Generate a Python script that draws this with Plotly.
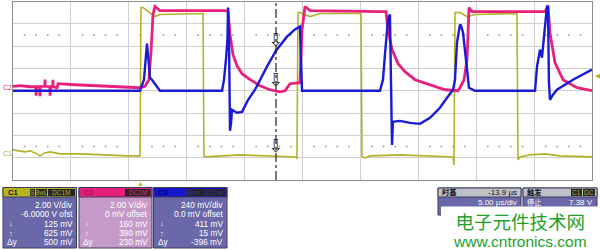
import numpy as np
import plotly.graph_objects as go

# ---------------- data (time in microseconds, 5 us/div) ----------------
# Channel 1 (yellow) volts, 2 V/div, centre 6 V
c1_t = [0, 0.6, 1.04, 1.47, 1.9, 2.33, 2.76, 3.2, 4.06, 5.79, 7.51, 9.93, 10.97,
        11.05, 11.23, 12.26, 12.69, 16.41, 16.49, 16.67, 19.6, 24.44, 24.52,
        24.61, 24.78, 25.65, 26.51, 30.05, 30.14, 30.4, 30.83, 33.42, 38.0,
        38.08, 38.17, 38.6, 39.21, 39.9, 43.52, 43.61, 43.78, 44.65, 45.94,
        47.24, 50.0]
c1_v = [0.70, 0.61, 0.52, 0.61, 0.43, 0.16, 0.43, 0.52, 0.34, 0.34, 0.25, 0.16, 0.16,
        13.46, 13.46, 12.65, 12.83, 12.92, 0.16, 0.07, 0.25, 0.07, -0.10,
        13.01, 13.01, 12.65, 12.92, 12.92, 0.07, -0.02, 0.16, 0.25, 0.07,
        -0.65, 13.01, 13.01, 12.65, 12.83, 12.92, -0.20, 0.07, 0.25, 0.34,
        0.16, 0.07]

# Channel 2 (pink) volts, 2 V/div, centre 0 V
c2_t = [0, 0.6, 1.47, 1.98, 2.0, 2.02, 2.31, 2.33, 2.35, 2.74, 2.76, 2.78,
        3.18, 3.2, 3.22, 3.43, 3.45, 3.47, 3.80, 3.89, 5.35, 7.51, 9.93, 10.97,
        11.4, 11.74, 11.92, 12.09, 12.26,
        12.69, 18.31, 18.57, 18.74, 19.0, 19.34, 19.78, 20.47, 21.33, 22.19,
        23.06, 23.49, 23.92, 24.78, 24.96, 25.22, 25.65, 31.95, 32.21, 32.38,
        32.73, 33.25, 33.85, 34.72, 36.01, 37.31, 38.43, 38.6, 38.95, 39.21,
        39.38, 39.64, 45.94, 46.2, 46.37, 46.8, 47.5, 48.7, 50.0]
c2_v = [0.40, 0.45, 0.36, 0.36, -0.45, 0.36, 0.36, -0.50, 0.36, 0.40, 1.0, 0.40,
        0.36, -0.45, 0.36, 0.36, 0.99, 0.36, 0.27, 0.63, 0.54, 0.45, 0.30, 0.27,
        0.40, 0.99, 3.5, 6.83, 7.55,
        7.19, 7.19, 7.10, 5.03, 3.24, 2.25, 1.53, 0.99, 0.45, 0.09,
        -0.09, 0.0, 0.63, 0.72, 5.48, 7.55, 7.19, 7.10, 7.10, 5.48,
        3.69, 2.43, 1.71, 0.99, 0.54, 0.09, 0.0, 0.27, 0.99, 2.79,
        7.46, 7.10, 7.10, 7.55, 5.21, 2.52, 0.99, 0.27, 0.0]

# Channel 3 (blue) volts, 240 mV/div, centre 0 V
c3_t = [0, 10.97, 11.31, 11.49, 11.57, 11.66, 11.83, 12.0, 12.26, 12.69, 18.05,
        18.22, 18.39, 18.52, 18.57, 18.65, 18.74, 18.83, 18.91, 19.34, 19.78,
        20.29, 20.9, 21.42, 21.93, 22.71, 23.66, 24.35, 24.78, 24.87, 24.96,
        31.69, 31.95, 32.12, 32.38, 32.55, 32.64, 32.73, 32.81, 33.42, 34.29,
        35.15, 36.01, 36.87, 37.48, 38.0, 38.17, 38.34, 38.6, 38.69, 38.86,
        39.21, 39.38, 39.9, 45.08, 45.25, 45.51, 45.68, 45.94, 46.11, 46.2,
        46.28, 46.37, 46.63, 46.97, 48.36, 50.0]
c3_v = [0.0, 0.0, 0.119, 0.388, 0.507, 0.388, 0.14, 0.119, 0.076, 0.0, 0.0,
        0.119, 0.334, 0.55, 0.895, 0.6, -0.431, -0.35, -0.205, -0.237, -0.227,
        -0.1, 0.011, 0.14, 0.259, 0.431, 0.582, 0.66, 0.69, 0.3, 0.0,
        0.0, 0.119, 0.388, 0.766, 0.82, 0.3, -0.582, -0.334, -0.324, -0.345,
        -0.356, -0.291, -0.183, -0.076, 0.011, 0.119, 0.518, 0.712, 0.7, 0.626,
        0.259, 0.032, 0.0, 0.0, 0.259, 0.442, 0.356, 0.658, 0.906, 0.906,
        0.1, -0.097, -0.043, 0.011, 0.119, 0.227]

cursor_t = 22.71          # vertical time cursor
trig_t = 11.05            # trigger position marker
trig_level = 7.38         # C1 trigger level (V)
dot_rows = [1.0, 11.0]    # dotted rows (C1 volts)

c1_panel = ["2.00 V/div", "-6.0000 V ofst", "125 mV", "625 mV", "500 mV"]
c2_panel = ["2.00 V/div", "0 mV offset", "160 mV", "390 mV", "230 mV"]
c3_panel = ["240 mV/div", "0.0 mV offset", "411 mV", "15 mV", "-396 mV"]

YEL = "#b3b227"
PINK = "#e81f7b"
BLUE = "#1a1ad6"
SLATE = "#6a68a8"

fig = go.Figure()

# dotted rows
dot_t = [float(t) for t in range(1, 50) if t % 5 != 0]
for lvl in dot_rows:
    fig.add_trace(go.Scatter(x=dot_t, y=[lvl] * len(dot_t), mode="markers",
                             marker=dict(size=2, color="#a8a8a8"),
                             hoverinfo="skip", showlegend=False))

fig.add_trace(go.Scatter(x=c1_t, y=c1_v, mode="lines", yaxis="y",
                         line=dict(color=YEL, width=1.6), showlegend=False))
fig.add_trace(go.Scatter(x=c3_t, y=c3_v, mode="lines", yaxis="y3",
                         line=dict(color=BLUE, width=2.4), showlegend=False))
fig.add_trace(go.Scatter(x=c2_t, y=c2_v, mode="lines", yaxis="y2",
                         line=dict(color=PINK, width=2.8), showlegend=False))

# cursor arrows at trace values
for tt, vv, ax in [(c1_t, c1_v, "y"), (c2_t, c2_v, "y2"), (c3_t, c3_v, "y3")]:
    val = float(np.interp(cursor_t, tt, vv))
    fig.add_trace(go.Scatter(x=[cursor_t], y=[val], yaxis=ax, mode="text",
                             text=["⇩"], textposition="top center",
                             textfont=dict(size=18, color="#333333",
                                           family="DejaVu Sans"),
                             showlegend=False, hoverinfo="skip"))

def px(x):
    return x / 600.0

def py(y):
    return 1 - y / 250.0

shapes = []
ann = []

shapes.append(dict(type="line", xref="x", yref="y domain", x0=cursor_t, x1=cursor_t,
                   y0=0, y1=1, line=dict(color="#222222", width=1.2, dash="dashdot")))

FONT = "Arial, Liberation Sans"

def rect(x0, y0, x1, y1, fill, line="#3c3c5c", lw=1):
    shapes.append(dict(type="rect", xref="paper", yref="paper", x0=px(x0), x1=px(x1),
                       y0=py(y1), y1=py(y0), fillcolor=fill,
                       line=dict(color=line, width=lw), layer="above"))

def text(x, y, s, size=8, color="white", anchor="right", bold=False, family=FONT):
    if bold:
        s = "<b>" + s + "</b>"
    ann.append(dict(x=px(x), y=py(y), xref="paper", yref="paper", text=s,
                    showarrow=False, xanchor=anchor, yanchor="middle",
                    font=dict(size=size, color=color, family=family)))

def box(x0, x1, s, tc):
    rect(x0, 189, x1, 196, "#262626", line="#262626", lw=0)
    text((x0 + x1) / 2, 192.6, s, size=6.5, color=tc, anchor="center")

def panel(x0, x1, hcol, bcol, lines, label, lcol):
    rect(x0, 187.5, x1, 248, bcol)
    rect(x0, 187.5, x1, 197, hcol)
    text(x0 + 3, 192.5, label, size=7.5, color=lcol, anchor="left", bold=True)
    ys = [205, 214.4, 223.8, 233.2, 242.4]
    for s, yy in zip(lines, ys):
        text(x1 - 2, yy, s, size=8.3)
    text(x0 + 4, 223.8, "↓", size=7.5, anchor="left")
    text(x0 + 4, 233.2, "↑", size=7.5, anchor="left")
    text(x0 + 2, 242.4, "Δy", size=8.3, anchor="left")

panel(3, 76.5, "#b8b41c", SLATE, c1_panel, "C1", "#111111")
box(30, 35, "S", YEL); box(36, 47, "BwL", YEL); box(48, 75, "DC1M", YEL)
panel(79, 152, "#e6207a", "#c69ac8", c2_panel, "C2", "#a8105a")
box(125, 150.5, "DC1M", PINK)
panel(153.5, 227, "#1616cc", SLATE, c3_panel, "C3", "#000066")
box(186, 199, "BwL", "#2a2ab0"); box(200, 225.5, "DC1M", "#2a2ab0")

# time base / trigger panels
rect(438, 188, 521, 215, SLATE)
rect(438, 188, 521, 197, "#c0c0c8")
text(440, 192, "时基", size=7.3, color="#111111", anchor="left", bold=True,
     family="Noto Sans CJK SC")
text(519, 192, "-13.9 µs", size=8, color="#111111")
text(519, 202, "5.00 µs/div", size=8)
rect(523, 188, 597, 215, SLATE)
rect(523, 188, 597, 197, "#c0c0c8")
text(525, 192, "触发", size=7.3, color="#111111", anchor="left", bold=True,
     family="Noto Sans CJK SC")
rect(571, 189, 582, 196, "#262626", line="#262626", lw=0)
text(576.5, 192.6, "C1", size=6.5, color=YEL, anchor="center")
rect(583, 189, 595, 196, "#262626", line="#262626", lw=0)
text(589, 192.6, "DC", size=6.5, color=YEL, anchor="center")
text(525, 202.2, "停止", size=7.3, anchor="left", family="Noto Sans CJK SC")
text(595, 202, "7.38 V", size=8)

# watermark (one two-line text)
rect(441, 206.5, 600, 250, "white", line="white", lw=0)
ann.append(dict(x=px(520), y=py(228.5), xref="paper", yref="paper",
                text=("<span style='font-size:18.5px;font-family:Noto Sans CJK SC'>"
                      "电子元件技术网</span><br>"
                      "<span style='font-size:15.5px'>www.cntronics.com</span>"),
                showarrow=False, xanchor="center", yanchor="middle", align="center",
                font=dict(size=14, color="#22a02a", family=FONT)))

# markers around the graticule
ann.append(dict(x=trig_t, y=py(183.5), xref="x", yref="paper", text="▲",
                showarrow=False, font=dict(size=7, color=YEL), yanchor="middle"))
ann.append(dict(x=px(593), y=trig_level, xref="paper", yref="y", text="◀",
                showarrow=False, xanchor="left", font=dict(size=7, color=YEL)))
ann.append(dict(x=px(1), y=0.3, xref="paper", yref="y2", text="C2", showarrow=False,
                xanchor="left", font=dict(size=7, color=PINK, family=FONT)))
ann.append(dict(x=px(1), y=0.4, xref="paper", yref="y", text="C1", showarrow=False,
                xanchor="left", font=dict(size=7, color=YEL, family=FONT)))

ydom = [py(180), py(1.5)]
fig.update_layout(
    width=600, height=250, margin=dict(l=0, r=0, t=0, b=0),
    paper_bgcolor="white", plot_bgcolor="white", showlegend=False,
    shapes=shapes, annotations=ann,
    xaxis=dict(domain=[px(13), px(592)], range=[0, 50], dtick=5, tick0=0,
               showgrid=True, gridcolor="#cfcfcf", gridwidth=1, zeroline=False,
               showticklabels=False, ticks="", showline=True, linecolor="#8c8c8c",
               linewidth=1, mirror=True, fixedrange=True),
    yaxis=dict(domain=ydom, range=[-2, 14], dtick=2, tick0=0, showgrid=True,
               gridcolor="#cfcfcf", gridwidth=1, zeroline=False, showticklabels=False,
               ticks="", showline=True, linecolor="#8c8c8c", linewidth=1, mirror=True,
               fixedrange=True),
    yaxis2=dict(overlaying="y", range=[-8, 8], visible=False, showgrid=False),
    yaxis3=dict(overlaying="y", range=[-0.96, 0.96], visible=False, showgrid=False),
)

fig.write_html("out.html")
